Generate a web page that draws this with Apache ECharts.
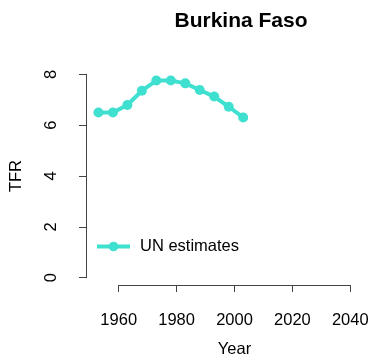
<!DOCTYPE html>
<html><head><meta charset="utf-8">
<script src="https://cdn.jsdelivr.net/npm/echarts@6/dist/echarts.min.js"></script>
<style>html,body{margin:0;padding:0;background:#fff}#c{width:370px;height:358px}</style>
</head><body><div id="c"></div>
<script>
var years = [1953, 1958, 1963, 1968, 1973, 1978, 1983, 1988, 1993, 1998, 2003];
var tfr = [6.50, 6.50, 6.80, 7.36, 7.76, 7.76, 7.65, 7.39, 7.13, 6.73, 6.31];
var xTicks = [1960, 1980, 2000, 2020, 2040];
var yTicks = [0, 2, 4, 6, 8];
var title = 'Burkina Faso';
var seriesName = 'UN estimates';

var FONT = 'Liberation Sans, Arial, sans-serif';
var AX = '#444';
var chart = echarts.init(document.getElementById('c'), null, {renderer: 'canvas'});
chart.setOption({
  animation: false,
  title: {text: title, left: 236, top: 6, textAlign: 'center',
    textStyle: {fontFamily: FONT, fontSize: 21, fontWeight: 'bold', color: '#000'}},
  legend: {left: 90, top: 233, itemWidth: 33, itemHeight: 12,
    data: [{name: seriesName}],
    lineStyle: {width: 4, color: '#40E0D0'},
    itemStyle: {color: '#40E0D0'},
    textStyle: {fontFamily: FONT, fontSize: 16.5, color: '#000', padding: [0,0,0,5]}},
  grid: [
    {left: 86, right: 8, top: 72.7, bottom: 73, outerBoundsMode: 'none', containLabel: false},
    {left: 118.7, width: 231.6, top: 72.7, bottom: 73, outerBoundsMode: 'none', containLabel: false},
    {left: 86, width: 200, top: 74.3, bottom: 80.3, outerBoundsMode: 'none', containLabel: false}
  ],
  xAxis: [
    {gridIndex: 0, type: 'value', min: 1948.71, max: 2044.04, show: false},
    {gridIndex: 1, type: 'value', min: xTicks[0], max: xTicks[xTicks.length-1], interval: 20,
      axisLine: {lineStyle: {color: AX, width: 1}}, axisTick: {length: 7, lineStyle: {color: AX}},
      splitLine: {show: false},
      axisLabel: {margin: 27, fontFamily: FONT, fontSize: 16.5, color: '#000', showMinLabel: true, showMaxLabel: true,
        formatter: function(v){ return String(v); }},
      name: 'Year', nameLocation: 'middle', nameGap: 56,
      nameTextStyle: {fontFamily: FONT, fontSize: 16.5, color: '#000'}},
    {gridIndex: 2, type: 'value', min: 0, max: 1, show: false}
  ],
  yAxis: [
    {gridIndex: 0, type: 'value', min: -0.287, max: 8.07, show: false},
    {gridIndex: 1, type: 'value', min: 0, max: 1, show: false},
    {gridIndex: 2, type: 'value', min: yTicks[0], max: yTicks[yTicks.length-1], interval: 2,
      axisLine: {show: true, lineStyle: {color: AX, width: 1}}, axisTick: {show: true, length: 7, lineStyle: {color: AX}},
      splitLine: {show: false},
      axisLabel: {rotate: 90, margin: 26, fontFamily: FONT, fontSize: 16.5, color: '#000', showMinLabel: true, showMaxLabel: true},
      name: 'TFR', nameLocation: 'middle', nameGap: 61, nameRotate: 90,
      nameTextStyle: {fontFamily: FONT, fontSize: 16.5, color: '#000'}}
  ],
  series: [{
    name: seriesName, type: 'line', xAxisIndex: 0, yAxisIndex: 0,
    data: years.map(function(y, i){ return [y, tfr[i]]; }),
    symbol: 'circle', symbolSize: 10, showSymbol: true,
    lineStyle: {color: '#40E0D0', width: 4},
    itemStyle: {color: '#40E0D0'}
  }]
});
</script></body></html>
